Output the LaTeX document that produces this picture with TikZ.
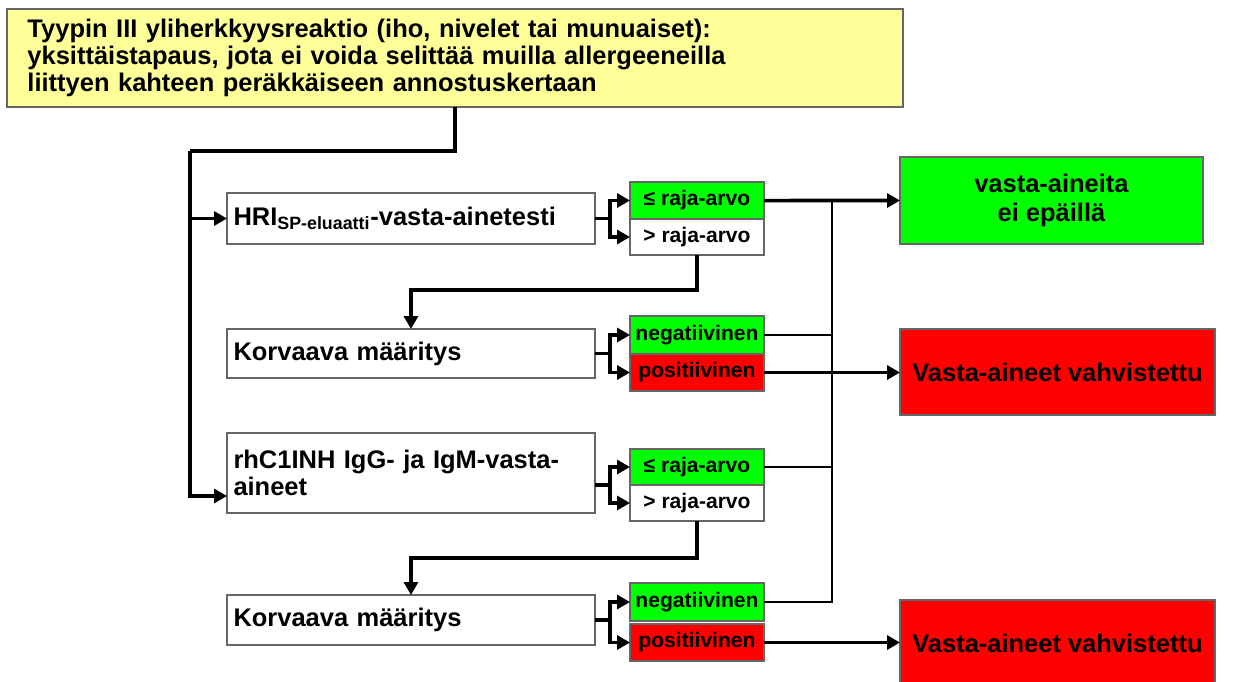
\documentclass[tikz,border=0pt]{standalone}
\usepackage{fontspec}
\setmainfont{Liberation Sans}
\usetikzlibrary{arrows.meta}
\definecolor{paleyellow}{HTML}{FFFF99}
\definecolor{brightgreen}{HTML}{00FF00}
\definecolor{brightred}{HTML}{FF0000}
\definecolor{edgegray}{HTML}{666666}
\begin{document}
\begin{tikzpicture}[x=0.02cm,y=-0.02cm,
  box/.style={draw=edgegray,line width=0.8pt,outer sep=0pt,anchor=north west,font=\bfseries\fontsize{14.5}{15.5}\selectfont},
  testbox/.style={box,minimum width=7.36cm,text width=7.1cm,align=left},
  resultbox/.style={box,minimum width=2.68cm,inner sep=0pt,font=\bfseries\fontsize{12}{13}\selectfont},
  outcome/.style={box,align=center,font=\bfseries\fontsize{14.5}{16.5}\selectfont},
  wire/.style={line width=2pt},
  arr/.style={wire,-{Triangle[length=0.26cm,width=0.28cm]}}]
\path[use as bounding box,clip] (0,0) rectangle (1237,681);
\node[box,fill=paleyellow,minimum width=17.92cm,minimum height=1.96cm,text width=17.1cm,align=left] (reaction) at (7,9) {Tyypin III yliherkkyysreaktio (iho, nivelet tai munuaiset):\\ yksittäistapaus, jota ei voida selittää muilla allergeeneilla\\ liittyen kahteen peräkkäiseen annostuskertaan};
\node[testbox,minimum height=1.02cm] (hri) at (227,193) {HRI\textsubscript{SP-eluaatti}-vasta-ainetesti};
\node[resultbox,fill=brightgreen,minimum height=0.74cm] (le1) at (630,182) {≤ raja-arvo};
\node[resultbox,minimum height=0.72cm] (gt1) at (630,219) {> raja-arvo};
\node[testbox,minimum height=0.98cm] (kor1) at (227,329) {Korvaava määritys};
\node[resultbox,fill=brightgreen,minimum height=0.76cm] (neg1) at (630,316) {negatiivinen};
\node[resultbox,fill=brightred,minimum height=0.74cm] (pos1) at (630,354) {positiivinen};
\node[testbox,minimum height=1.6cm] (rhc) at (227,433) {rhC1INH IgG- ja IgM-vasta-\\aineet};
\node[resultbox,fill=brightgreen,minimum height=0.72cm] (le2) at (630,449) {≤ raja-arvo};
\node[resultbox,minimum height=0.72cm] (gt2) at (630,485) {> raja-arvo};
\node[testbox,minimum height=1cm] (kor2) at (227,595) {Korvaava määritys};
\node[resultbox,fill=brightgreen,minimum height=0.76cm] (neg2) at (630,583) {negatiivinen};
\node[resultbox,fill=brightred,minimum height=0.74cm] (pos2) at (630,624) {positiivinen};
\node[outcome,fill=brightgreen,minimum width=6.06cm,minimum height=1.74cm] (noab) at (900,157) {vasta-aineita\\ ei epäillä};
\node[outcome,fill=brightred,minimum width=6.3cm,minimum height=1.72cm] (conf1) at (900,329) {Vasta-aineet vahvistettu};
\node[outcome,fill=brightred,minimum width=6.3cm,minimum height=1.72cm] (conf2) at (900,600) {Vasta-aineet vahvistettu};
\coordinate (trunk) at (190,151);
\coordinate (join) at (832,201);
\draw[wire] (reaction.south) |- (trunk);
\draw[arr] (trunk) |- (hri.west);
\draw[arr] (trunk) |- ([yshift=-0.46cm]rhc.west);
\foreach \t/\a/\b in {hri/le1/gt1,kor1/neg1/pos1,kor2/neg2/pos2}{
  \draw[arr] (\t.east) -- ++(15,0) |- (\a.west);
  \draw[arr] (\t.east) -- ++(15,0) |- (\b.west);}
\draw[arr] (rhc.east |- le2.south) -- ++(15,0) |- (le2.west);
\draw[arr] (rhc.east |- le2.south) -- ++(15,0) |- (gt2.west);
\draw[arr] (gt1.south) -- ++(0,35) -| (kor1.north);
\draw[arr] (gt2.south) -- ++(0,37) -| (kor2.north);
\draw[arr] (le1.east) -- (noab.west);
\draw[wire,line width=1.6pt] (neg2.east) -| (join);
\foreach \n in {neg1,le2}{\draw[wire,line width=1.6pt] (\n.east) -- (\n.east -| join);}
\draw[arr] (pos1.east) -- (pos1.east -| conf1.west);
\draw[arr] (pos2.east) -- (pos2.east -| conf2.west);
\end{tikzpicture}
\end{document}
